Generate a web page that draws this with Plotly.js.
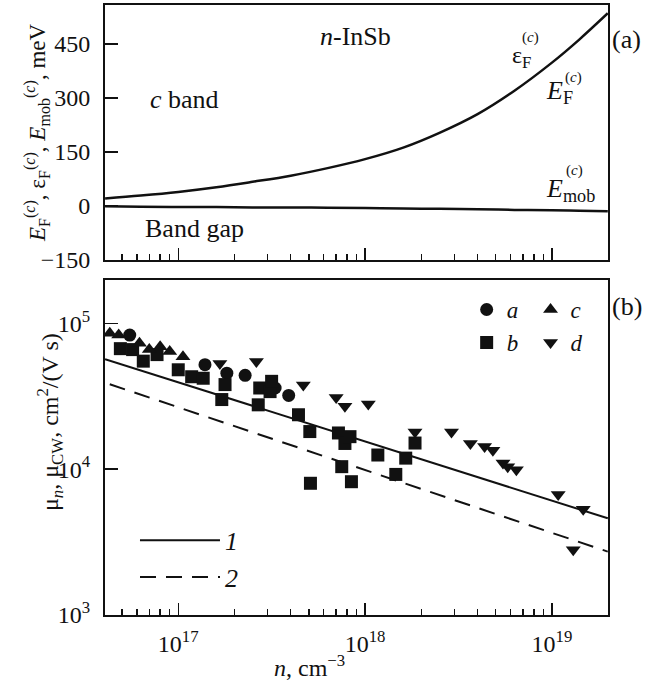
<!DOCTYPE html>
<html>
<head>
<meta charset="utf-8">
<script src="https://cdn.plot.ly/plotly-3.0.1.min.js"></script>
<style>html,body{margin:0;padding:0;background:#fff;}#chart{width:656px;height:681px;}</style>
</head>
<body>
<div id="chart"></div>
<script>
// ---- Panel (a): energies vs carrier density ----
const nTop = [4.06e16, 6.3e16, 1e17, 1.6e17, 2.5e17, 4e17, 6.3e17, 1e18, 1.6e18, 2.5e18, 4e18, 6.3e18, 1e19, 1.4e19, 1.99e19];
const EF = [21, 29, 39, 52, 67, 84, 105, 130, 162, 203, 255, 320, 398, 462, 535];
const Emob = [-1, -2, -3, -3, -4, -4, -5, -6, -7, -8, -9, -11, -12, -13, -15];

// ---- Panel (b): mobility data ----
const nA = [5.5e16, 1.39e17, 1.82e17, 2.28e17, 3.3e17, 3.9e17];
const muA = [8.3e4, 5.2e4, 4.55e4, 4.4e4, 3.6e4, 3.2e4];

const nB = [4.9e16, 5.7e16, 6.5e16, 7.7e16, 1.0e17, 1.18e17, 1.36e17, 1.71e17, 1.78e17, 2.68e17, 2.73e17, 3.1e17, 3.16e17, 4.4e17, 5.06e17, 5.1e17, 7.2e17, 7.5e17, 7.8e17, 8.3e17, 8.45e17, 1.17e18, 1.46e18, 1.65e18, 1.85e18];
const muB = [6.7e4, 6.6e4, 5.5e4, 6.1e4, 4.8e4, 4.3e4, 4.2e4, 3.0e4, 3.8e4, 2.76e4, 3.6e4, 3.4e4, 4.0e4, 2.36e4, 1.81e4, 8.0e3, 1.77e4, 1.04e4, 1.5e4, 1.67e4, 8.2e3, 1.25e4, 9.2e3, 1.19e4, 1.51e4];

const nC = [4.3e16, 4.8e16, 6.2e16, 7.0e16, 8.0e16, 9.0e16, 1.06e17];
const muC = [8.55e4, 8.3e4, 7.3e4, 6.6e4, 6.9e4, 6.4e4, 5.9e4];

const nD = [1.67e17, 2.62e17, 4.67e17, 7.0e17, 7.8e17, 1.04e18, 1.85e18, 2.9e18, 3.66e18, 4.36e18, 4.83e18, 5.47e18, 5.8e18, 6.45e18, 1.08e19, 1.47e19, 1.3e19];
const muD = [5.3e4, 5.46e4, 3.78e4, 3.1e4, 2.7e4, 2.8e4, 1.8e4, 1.8e4, 1.5e4, 1.43e4, 1.35e4, 1.1e4, 1.04e4, 9.9e3, 6.7e3, 5.3e3, 2.8e3];

const nLine1 = [4.06e16, 1.99e19];
const muLine1 = [5.68e4, 4.6e3];
const nLine2 = [4.3e16, 1.99e19];
const muLine2 = [3.82e4, 2.72e3];

// ---- ticks ----
const xMajor = [1e17, 1e18, 1e19];
const xMajorText = ['10<sup>17</sup>', '10<sup>18</sup>', '10<sup>19</sup>'];
const xMinor = [5e16, 6e16, 7e16, 8e16, 9e16, 2e17, 3e17, 4e17, 5e17, 6e17, 7e17, 8e17, 9e17, 2e18, 3e18, 4e18, 5e18, 6e18, 7e18, 8e18, 9e18];
const yTopTicks = [-150, 0, 150, 300, 450];
const yBotTicks = [1e3, 1e4, 1e5];
const yBotText = ['10<sup>3</sup>', '10<sup>4</sup>', '10<sup>5</sup>'];

const FONT = 'Liberation Serif';
const K = '#111';

const traces = [
  {x: nTop, y: EF, xaxis: 'x', yaxis: 'y', mode: 'lines', line: {color: K, width: 2.5, shape: 'spline'}, showlegend: false},
  {x: nTop, y: Emob, xaxis: 'x', yaxis: 'y', mode: 'lines', line: {color: K, width: 2.5, shape: 'spline'}, showlegend: false},
  {x: nLine1, y: muLine1, xaxis: 'x2', yaxis: 'y2', mode: 'lines', name: '<i>1</i>', line: {color: K, width: 2}, legend: 'legend3'},
  {x: nLine2, y: muLine2, xaxis: 'x2', yaxis: 'y2', mode: 'lines', name: '<i>2</i>', line: {color: K, width: 2, dash: '16px,10px'}, legend: 'legend3'},
  {x: nA, y: muA, xaxis: 'x2', yaxis: 'y2', mode: 'markers', name: '<i>a</i>', marker: {symbol: 'circle', size: 13, color: K}, legend: 'legend'},
  {x: nB, y: muB, xaxis: 'x2', yaxis: 'y2', mode: 'markers', name: '<i>b</i>', marker: {symbol: 'square', size: 13, color: K}, legend: 'legend'},
  {x: nC, y: muC, xaxis: 'x2', yaxis: 'y2', mode: 'markers', name: '<i>c</i>', marker: {symbol: 'triangle-up', size: 13, color: K}, legend: 'legend2'},
  {x: nD, y: muD, xaxis: 'x2', yaxis: 'y2', mode: 'markers', name: '<i>d</i>', marker: {symbol: 'triangle-down', size: 13, color: K}, legend: 'legend2'}
];

const xBase = {
  type: 'log', range: [16.608, 19.30], showline: true, linewidth: 2, linecolor: K, mirror: true,
  ticks: 'inside', ticklen: 12, tickwidth: 1.5, tickcolor: K, tickmode: 'array', tickvals: xMajor,
  minor: {ticks: 'inside', ticklen: 6, tickwidth: 1.5, tickcolor: K, tickmode: 'array', tickvals: xMinor},
  showgrid: false, zeroline: false
};

function ann(px, py, text, size, extra) {
  return Object.assign({xref: 'paper', yref: 'paper', x: (px - 105) / 503.5, y: (615 - py) / 610,
    xanchor: 'center', yanchor: 'middle', text: text, showarrow: false, font: {size: size, family: FONT, color: K}}, extra || {});
}

const layout = {
  width: 656, height: 681,
  margin: {l: 105, r: 47.5, t: 5, b: 66},
  paper_bgcolor: '#fff', plot_bgcolor: '#fff',
  font: {family: FONT, color: K, size: 24},
  xaxis: Object.assign({}, xBase, {anchor: 'y', showticklabels: false}),
  yaxis: {domain: [0.582, 1], range: [-150, 558], anchor: 'x', showline: true, linewidth: 2, linecolor: K, mirror: true,
    ticks: 'inside', ticklen: 13, tickwidth: 1.5, tickcolor: K, tickmode: 'array', tickvals: yTopTicks,
    tickfont: {size: 24, family: FONT, color: K}, ticklabelstandoff: 8, showgrid: false, zeroline: false},
  xaxis2: Object.assign({}, xBase, {anchor: 'y2', ticktext: xMajorText, tickfont: {size: 24, family: FONT, color: K}, ticklabelstandoff: 6}),
  yaxis2: {domain: [0, 0.549], type: 'log', range: [3, 5.296], anchor: 'x2', showline: true, linewidth: 2, linecolor: K, mirror: true,
    ticks: 'inside', ticklen: 13, tickwidth: 1.5, tickcolor: K, tickmode: 'array', tickvals: yBotTicks, ticktext: yBotText,
    tickfont: {size: 24, family: FONT, color: K}, ticklabelstandoff: 8, showgrid: false, zeroline: false},
  legend: {x: 0.719, y: 0.536, xanchor: 'left', yanchor: 'top', bgcolor: 'rgba(0,0,0,0)', font: {size: 23, family: FONT, color: K}, tracegroupgap: 0},
  legend2: {x: 0.846, y: 0.536, xanchor: 'left', yanchor: 'top', bgcolor: 'rgba(0,0,0,0)', font: {size: 23, family: FONT, color: K}, tracegroupgap: 0},
  legend3: {x: 0.0596, y: 0.161, xanchor: 'left', yanchor: 'top', bgcolor: 'rgba(0,0,0,0)', font: {size: 26, family: FONT, color: K}, itemwidth: 80, tracegroupgap: 0},
  annotations: [
    ann(356, 36, '<i>n</i>-InSb', 26),
    ann(185, 100, '<i>c</i> band', 26),
    ann(195, 228, 'Band gap', 26),
    ann(522, 57, 'ε<sub>F</sub>', 24),
    ann(531, 37, '(<i>c</i>)', 15),
    ann(560, 92, '<i>E</i><sub>F</sub>', 26),
    ann(574, 78, '(<i>c</i>)', 15),
    ann(571, 190, '<i>E</i><sub>mob</sub>', 26),
    ann(575, 171, '(<i>c</i>)', 15),
    ann(627, 40, '(a)', 26),
    ann(628, 307, '(b)', 26),
    ann(36, 133, '<i>E</i><sub>F</sub><sup>(<i>c</i>)</sup>, ε<sub>F</sub><sup>(<i>c</i>)</sup>, <i>E</i><sub>mob</sub><sup>(<i>c</i>)</sup>, meV', 23, {textangle: -90}),
    ann(50, 422, 'μ<sub><i>n</i></sub>, μ<sub>CW</sub>, cm<sup>2</sup>/(V s)', 24, {textangle: -90}),
    ann(310, 666, '<i>n</i>, cm<sup>−3</sup>', 24)
  ]
};

Plotly.newPlot('chart', traces, layout, {staticPlot: true, displayModeBar: false});
</script>
</body>
</html>
